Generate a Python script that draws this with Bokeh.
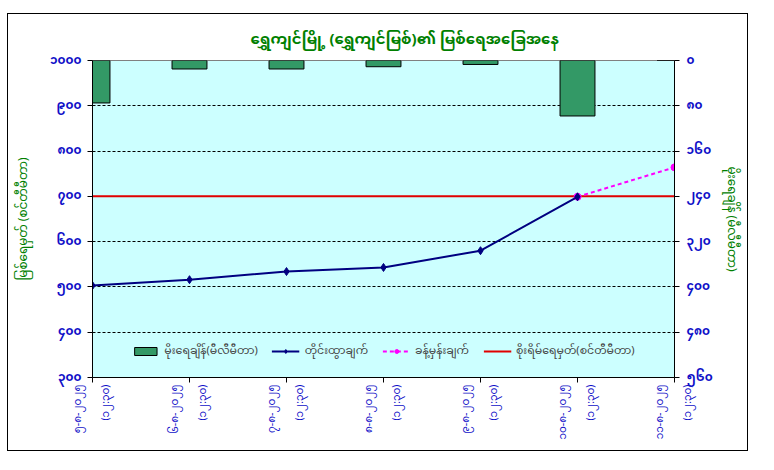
import math
from bokeh.plotting import figure
from bokeh.models import Range1d, LinearAxis, FixedTicker, Legend, LegendItem, Title
from bokeh.embed import file_html
from bokeh.resources import INLINE

# ---------------- data ----------------
title_text = "ရွှေကျင်မြို့ (ရွှေကျင်မြစ်)၏ မြစ်ရေအခြေအနေ"
left_axis_title = "မြစ်ရေမှတ် (စင်တီမီတာ)"
right_axis_title = "မိုးရေချိန် (မီလီမီတာ)"

x_idx = [0, 1, 2, 3, 4, 5, 6]
date_labels = [
    "၅-၈-၂၀၂၅\n(၁၂:၃၀)",
    "၆-၈-၂၀၂၅\n(၁၂:၃၀)",
    "၇-၈-၂၀၂၅\n(၁၂:၃၀)",
    "၈-၈-၂၀၂၅\n(၁၂:၃၀)",
    "၉-၈-၂၀၂၅\n(၁၂:၃၀)",
    "၁၀-၈-၂၀၂၅\n(၁၂:၃၀)",
    "၁၁-၈-၂၀၂၅\n(၁၂:၃၀)",
]

rain_mm = [75, 15, 15, 11, 7, 98, 0]
obs_x = [0, 1, 2, 3, 4, 5]
obs_level = [503, 516, 534, 543, 580, 699]
fc_x = [5, 6]
fc_level = [699, 764]
danger_level = [700, 700, 700, 700, 700, 700, 700]

legend_labels = ["မိုးရေချိန်(မီလီမီတာ)", "တိုင်းထွာချက်", "ခန့်မှန်းချက်", "စိုးရိမ်ရေမှတ်(စင်တီမီတာ)"]

left_ticks = [300, 400, 500, 600, 700, 800, 900, 1000]
left_tick_labels = ["၃၀၀", "၄၀၀", "၅၀၀", "၆၀၀", "၇၀၀", "၈၀၀", "၉၀၀", "၁၀၀၀"]
right_ticks = [0, 80, 160, 240, 320, 400, 480, 560]
right_tick_labels = ["၀", "၈၀", "၁၆၀", "၂၄၀", "၃၂၀", "၄၀၀", "၄၈၀", "၅၆၀"]

# ---------------- styles ----------------
MM_FONT = "'Noto Sans Myanmar', 'Myanmar Text', Padauk, 'Noto Sans', sans-serif"
GREEN = "#008000"
BLUE = "#1010C8"

p = figure(frame_width=582, frame_height=317, x_range=Range1d(0, 6), y_range=Range1d(300, 1000),
           output_backend="svg", toolbar_location=None,
           min_border_left=80, min_border_right=69, min_border_top=46, min_border_bottom=73)
p.styles = {"border": "1px solid black", "margin-left": "7px", "margin-top": "13px"}
p.background_fill_color = "#CCFFFF"
p.border_fill_color = "white"
p.outline_line_color = "#808080"

p.title.text = title_text
p.title.align = "left"
p.title.offset = 158
p.title.text_font = MM_FONT
p.title.text_font_size = "15px"
p.title.text_font_style = "bold"
p.title.text_color = GREEN
p.title.standoff = 8

p.extra_y_ranges = {"rain": Range1d(start=560, end=0)}

# bars (rainfall)
bars = p.vbar(x=x_idx, width=0.36, top=[0] * len(rain_mm), bottom=rain_mm, y_range_name="rain",
              fill_color="#339966", line_color="black", line_width=1)

# danger level
danger = p.line(x_idx, danger_level, line_color="#E00000", line_width=2)

# forecast
fc_line = p.line(fc_x, fc_level, line_color="#FF00FF", line_width=2, line_dash="4 3")
fc_pts = p.scatter(fc_x, fc_level, marker="circle", size=7, fill_color="#FF00FF", line_color="#FF00FF")

# observed
obs_line = p.line(obs_x, obs_level, line_color="#000080", line_width=2)
obs_pts = p.scatter(obs_x, obs_level, marker="diamond", size=8, fill_color="#000080", line_color="#000080")

# axes
p.xaxis.ticker = FixedTicker(ticks=x_idx)
p.xaxis.major_label_overrides = {i: lab for i, lab in zip(x_idx, date_labels)}
p.xaxis.major_label_orientation = math.pi / 2
p.xaxis.major_label_text_font = MM_FONT
p.xaxis.major_label_text_font_size = "10.5px"
p.xaxis.major_label_text_color = BLUE
p.xaxis.major_label_standoff = 2
p.xaxis.axis_line_color = "black"
p.xaxis.major_tick_line_color = "black"
p.xaxis.major_tick_in = 0
p.xaxis.major_tick_out = 5
p.xaxis.minor_tick_line_color = None

p.yaxis.ticker = FixedTicker(ticks=left_ticks)
p.yaxis.major_label_overrides = {t: lab for t, lab in zip(left_ticks, left_tick_labels)}
p.yaxis.major_label_text_font = MM_FONT
p.yaxis.major_label_text_font_size = "12px"
p.yaxis.major_label_text_font_style = "bold"
p.yaxis.major_label_text_color = BLUE
p.yaxis.major_label_standoff = 6
p.yaxis.axis_label = left_axis_title
p.yaxis.axis_label_text_font = MM_FONT
p.yaxis.axis_label_text_font_size = "12px"
p.yaxis.axis_label_text_font_style = "normal"
p.yaxis.axis_label_text_color = GREEN
p.yaxis.axis_label_standoff = 10
p.yaxis.major_tick_in = 0
p.yaxis.major_tick_out = 5
p.yaxis.minor_tick_line_color = None

raxis = LinearAxis(y_range_name="rain", ticker=FixedTicker(ticks=right_ticks))
raxis.major_label_overrides = {t: lab for t, lab in zip(right_ticks, right_tick_labels)}
raxis.major_label_text_font = MM_FONT
raxis.major_label_text_font_size = "12px"
raxis.major_label_text_font_style = "bold"
raxis.major_label_text_color = BLUE
raxis.major_label_standoff = 7
raxis.major_tick_in = 0
raxis.major_tick_out = 5
raxis.minor_tick_line_color = None
p.add_layout(raxis, "right")

# right axis title (reads top-to-bottom)
rtitle = Title(text=right_axis_title, align="center", text_font=MM_FONT, text_font_size="12px",
               text_font_style="normal", text_color=GREEN, standoff=4)
p.add_layout(rtitle, "right")

p.xgrid.grid_line_color = None
p.ygrid.ticker = FixedTicker(ticks=left_ticks)
p.ygrid.grid_line_color = "black"
p.ygrid.grid_line_dash = "3 2"
p.ygrid.grid_line_width = 1

legend = Legend(items=[
    LegendItem(label=legend_labels[0], renderers=[bars]),
    LegendItem(label=legend_labels[1], renderers=[obs_line, obs_pts]),
    LegendItem(label=legend_labels[2], renderers=[fc_line, fc_pts]),
    LegendItem(label=legend_labels[3], renderers=[danger]),
], location="bottom_center", orientation="horizontal")
legend.background_fill_color = "#CCFFFF"
legend.background_fill_alpha = 1
legend.border_line_color = None
legend.label_text_font = MM_FONT
legend.label_text_font_size = "11px"
legend.glyph_width = 28
legend.glyph_height = 10
legend.spacing = 14
legend.margin = 14
legend.padding = 4
p.add_layout(legend, "center")

open("out.html", "w").write(file_html(p, INLINE))
